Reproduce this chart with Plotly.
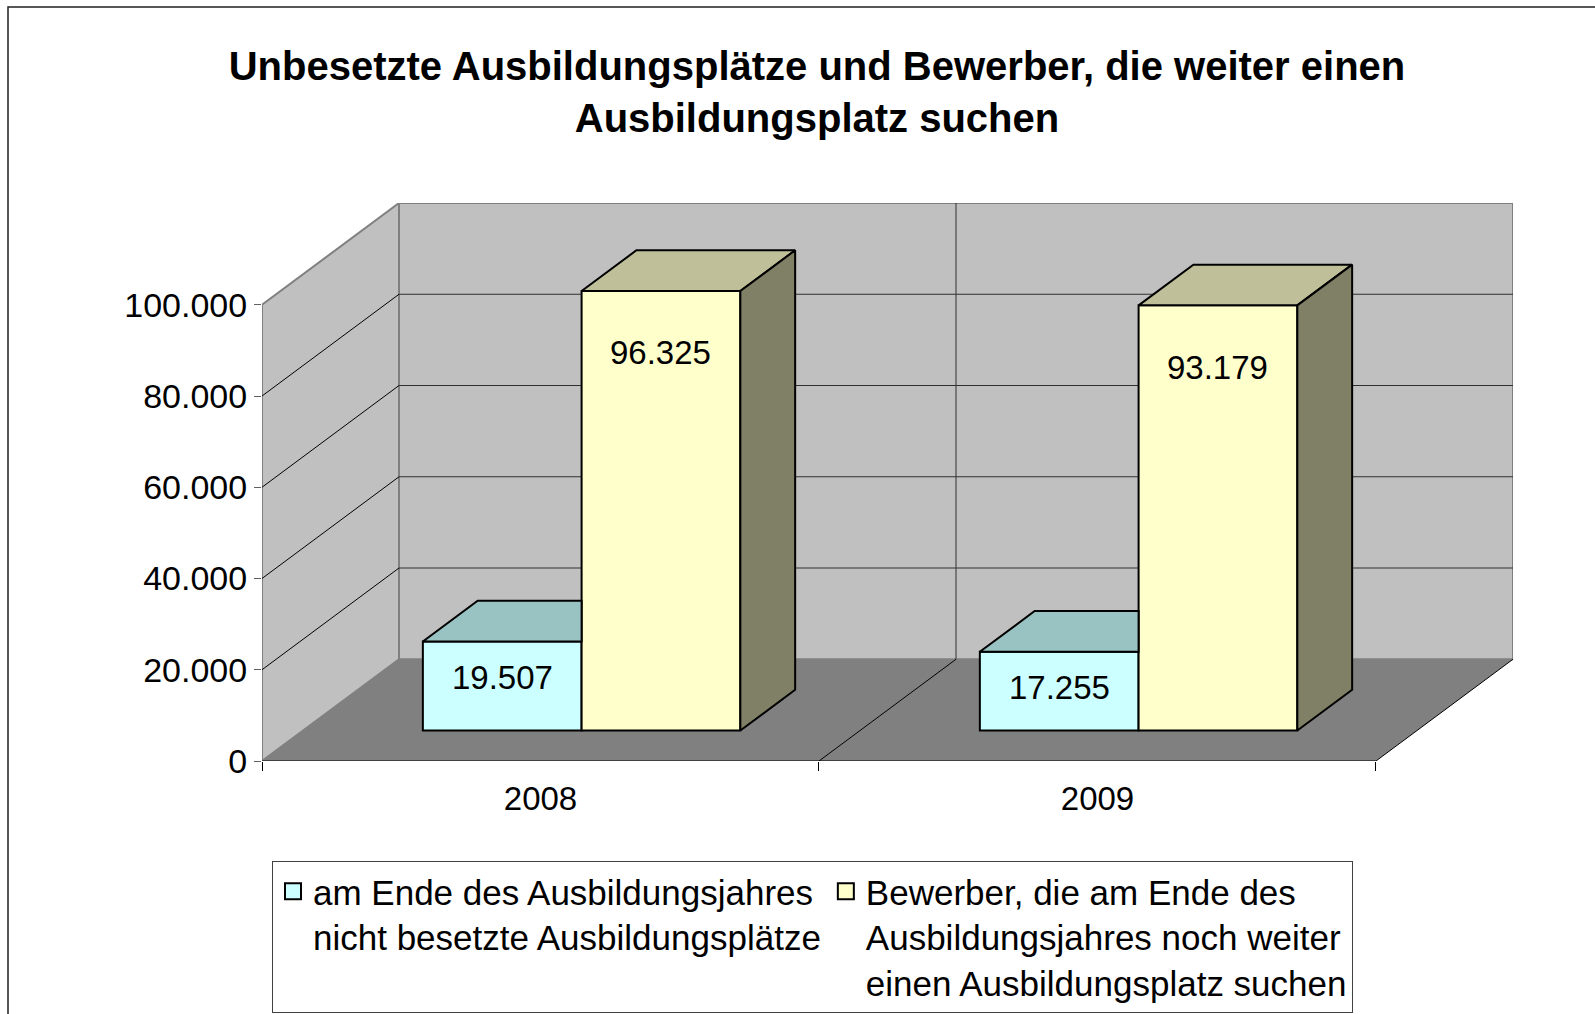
import plotly.graph_objects as go

# ---------------- data ----------------
years = ["2008", "2009"]
series_names = [
    "am Ende des Ausbildungsjahres<br>nicht besetzte Ausbildungsplätze",
    "Bewerber, die am Ende des<br>Ausbildungsjahres noch weiter<br>einen Ausbildungsplatz suchen",
]
unbesetzt = [19507, 17255]
bewerber = [96325, 93179]
y_ticks = [0, 20000, 40000, 60000, 80000, 100000]
title_text = "Unbesetzte Ausbildungsplätze und Bewerber, die weiter einen<br>Ausbildungsplatz suchen"

# ---------------- style / geometry ----------------
W, H = 1595, 1014
ML, MT = 262, 203
MR = W - 1513
MB = H - 761
PW, PH = W - ML - MR, H - MT - MB
DX = 0.246      # oblique depth along x (category units)
DY = 22300      # oblique depth along y (value units)
Y_MAX = y_ticks[-1]
BAR_W = 0.285
F0, F1 = 0.3, 0.7   # bar front / back depth fractions
FONT = "Liberation Sans, Arial, sans-serif"

front_cols = ["#CCFFFF", "#FFFFCC"]
top_cols = ["#99C2C2", "#BFBF99"]
side_cols = ["#7A9999", "#808066"]
label_shift = [-36, -62]

series = [unbesetzt, bewerber]
offsets = [-BAR_W, 0.0]
idx = list(range(len(years)))


def px_x(p):
    return (p - ML) / PW


def px_y(p):
    return (H - MB - p) / PH


fig = go.Figure()

# front faces as bars
for s, vals in enumerate(series):
    fig.add_trace(go.Bar(
        x=[i + F0 * DX for i in idx], y=vals, base=F0 * DY,
        width=BAR_W, offset=offsets[s],
        marker=dict(color=front_cols[s], line=dict(color="black", width=2)),
        name=series_names[s], hoverinfo="skip", showlegend=False,
    ))

ddx = (F1 - F0) * DX
ddy = (F1 - F0) * DY
b = F0 * DY
annotations = []
for i in idx:
    for s, vals in enumerate(series):
        v = vals[i]
        xl = i + F0 * DX + offsets[s]
        xr = xl + BAR_W
        t = b + v
        nxt = series[s + 1][i] if s + 1 < len(series) else None
        # top face (clipped if the neighbour on the right is taller)
        if nxt is not None and nxt > v:
            tx = [xl, xr, xr, xl + ddx, xl]
        else:
            tx = [xl, xr, xr + ddx, xl + ddx, xl]
        ty = [t, t, t + ddy, t + ddy, t]
        fig.add_trace(go.Scatter(
            x=tx, y=ty, mode="lines", fill="toself", fillcolor=top_cols[s],
            line=dict(color="black", width=2), showlegend=False, hoverinfo="skip"))
        if nxt is None or nxt < v:
            fig.add_trace(go.Scatter(
                x=[xr, xr, xr + ddx, xr + ddx, xr], y=[b, t, t + ddy, b + ddy, b],
                mode="lines", fill="toself", fillcolor=side_cols[s],
                line=dict(color="black", width=2), showlegend=False, hoverinfo="skip"))
        lbl = f"{v:,}".replace(",", ".")
        annotations.append(dict(
            x=(xl + xr) / 2, y=t, xref="x", yref="y", text=lbl, showarrow=False,
            yshift=label_shift[s], font=dict(size=33, color="black", family=FONT)))

# legend entries (square keys like the reference legend)
for s in range(len(series)):
    fig.add_trace(go.Scatter(
        x=[None], y=[None], mode="markers", name=series_names[s],
        marker=dict(symbol="square", size=16, color=front_cols[s],
                    line=dict(color="black", width=2)),
        hoverinfo="skip"))

# ---------------- walls, floor, grid ----------------
x0, x1 = -0.5, len(years) - 0.5
shapes = []
shapes.append(dict(type="path", xref="x", yref="y", layer="below",
                   path=f"M{x0},0 L{x1},0 L{x1+DX},{DY} L{x0+DX},{DY} Z",
                   fillcolor="#808080", line=dict(width=0)))
shapes.append(dict(type="path", xref="x", yref="y", layer="below",
                   path=f"M{x0},0 L{x0},{Y_MAX} L{x0+DX},{Y_MAX+DY} L{x0+DX},{DY} Z",
                   fillcolor="#C0C0C0", line=dict(color="#808080", width=2)))
shapes.append(dict(type="rect", xref="x", yref="y", layer="below",
                   x0=x0 + DX, x1=x1 + DX, y0=DY, y1=Y_MAX + DY,
                   fillcolor="#C0C0C0", line=dict(color="#808080", width=2)))
for v in y_ticks[1:-1]:
    shapes.append(dict(type="line", xref="x", yref="y", layer="below",
                       x0=x0, y0=v, x1=x0 + DX, y1=v + DY, line=dict(color="black", width=1)))
    shapes.append(dict(type="line", xref="x", yref="y", layer="below",
                       x0=x0 + DX, y0=v + DY, x1=x1 + DX, y1=v + DY,
                       line=dict(color="#303030", width=1)))
for k in range(1, len(years)):
    xd = k - 0.5
    shapes.append(dict(type="line", xref="x", yref="y", layer="below",
                       x0=xd, y0=0, x1=xd + DX, y1=DY, line=dict(color="black", width=1)))
    shapes.append(dict(type="line", xref="x", yref="y", layer="below",
                       x0=xd + DX, y0=DY, x1=xd + DX, y1=Y_MAX + DY,
                       line=dict(color="#303030", width=1)))
shapes.append(dict(type="line", xref="x", yref="y", layer="below",
                   x0=x0, y0=0, x1=x1, y1=0, line=dict(color="black", width=1)))
shapes.append(dict(type="line", xref="x", yref="y", layer="below",
                   x0=x1, y0=0, x1=x1 + DX, y1=DY, line=dict(color="black", width=1)))
# outer chart border
shapes.append(dict(type="rect", xref="paper", yref="paper",
                   x0=px_x(8), x1=px_x(W + 20), y0=px_y(H + 20), y1=px_y(7),
                   line=dict(color="#202020", width=1.5), fillcolor="rgba(0,0,0,0)"))

fig.update_layout(
    width=W, height=H, autosize=False,
    margin=dict(l=ML, r=MR, t=MT, b=MB, pad=0, autoexpand=False),
    paper_bgcolor="white", plot_bgcolor="white",
    separators=",.",
    barmode="overlay",
    font=dict(family=FONT, color="black", size=33),
    title=dict(text=title_text, x=817 / W, xref="container", xanchor="center",
               y=1 - 80 / H, yref="container", yanchor="top",
               font=dict(size=40, family=FONT, color="black", weight="bold")),
    xaxis=dict(range=[x0, x1 + DX], tickvals=idx, ticktext=years, ticks="",
               showgrid=False, zeroline=False, showline=False,
               tickfont=dict(size=33), ticklabelstandoff=15,
               minor=dict(tickvals=[k - 0.5 for k in range(len(years) + 1)],
                          ticks="outside", ticklen=9, tickcolor="black", tickwidth=1,
                          showgrid=False)),
    yaxis=dict(range=[0, Y_MAX + DY], tickvals=y_ticks, tickformat=",d", ticks="outside",
               ticklen=7, tickcolor="#606060", tickwidth=1, showgrid=False, zeroline=False,
               showline=False, tickfont=dict(size=34)),
    legend=dict(orientation="h", x=px_x(272), y=px_y(861), xanchor="left", yanchor="top",
                bordercolor="#404040", borderwidth=1, bgcolor="white",
                font=dict(size=35, family=FONT, color="black"), valign="top",
                traceorder="normal"),
    shapes=shapes,
    annotations=annotations,
)

fig.write_html("out.html", config={"displayModeBar": False},
               post_script="document.body.style.margin='0px';")
